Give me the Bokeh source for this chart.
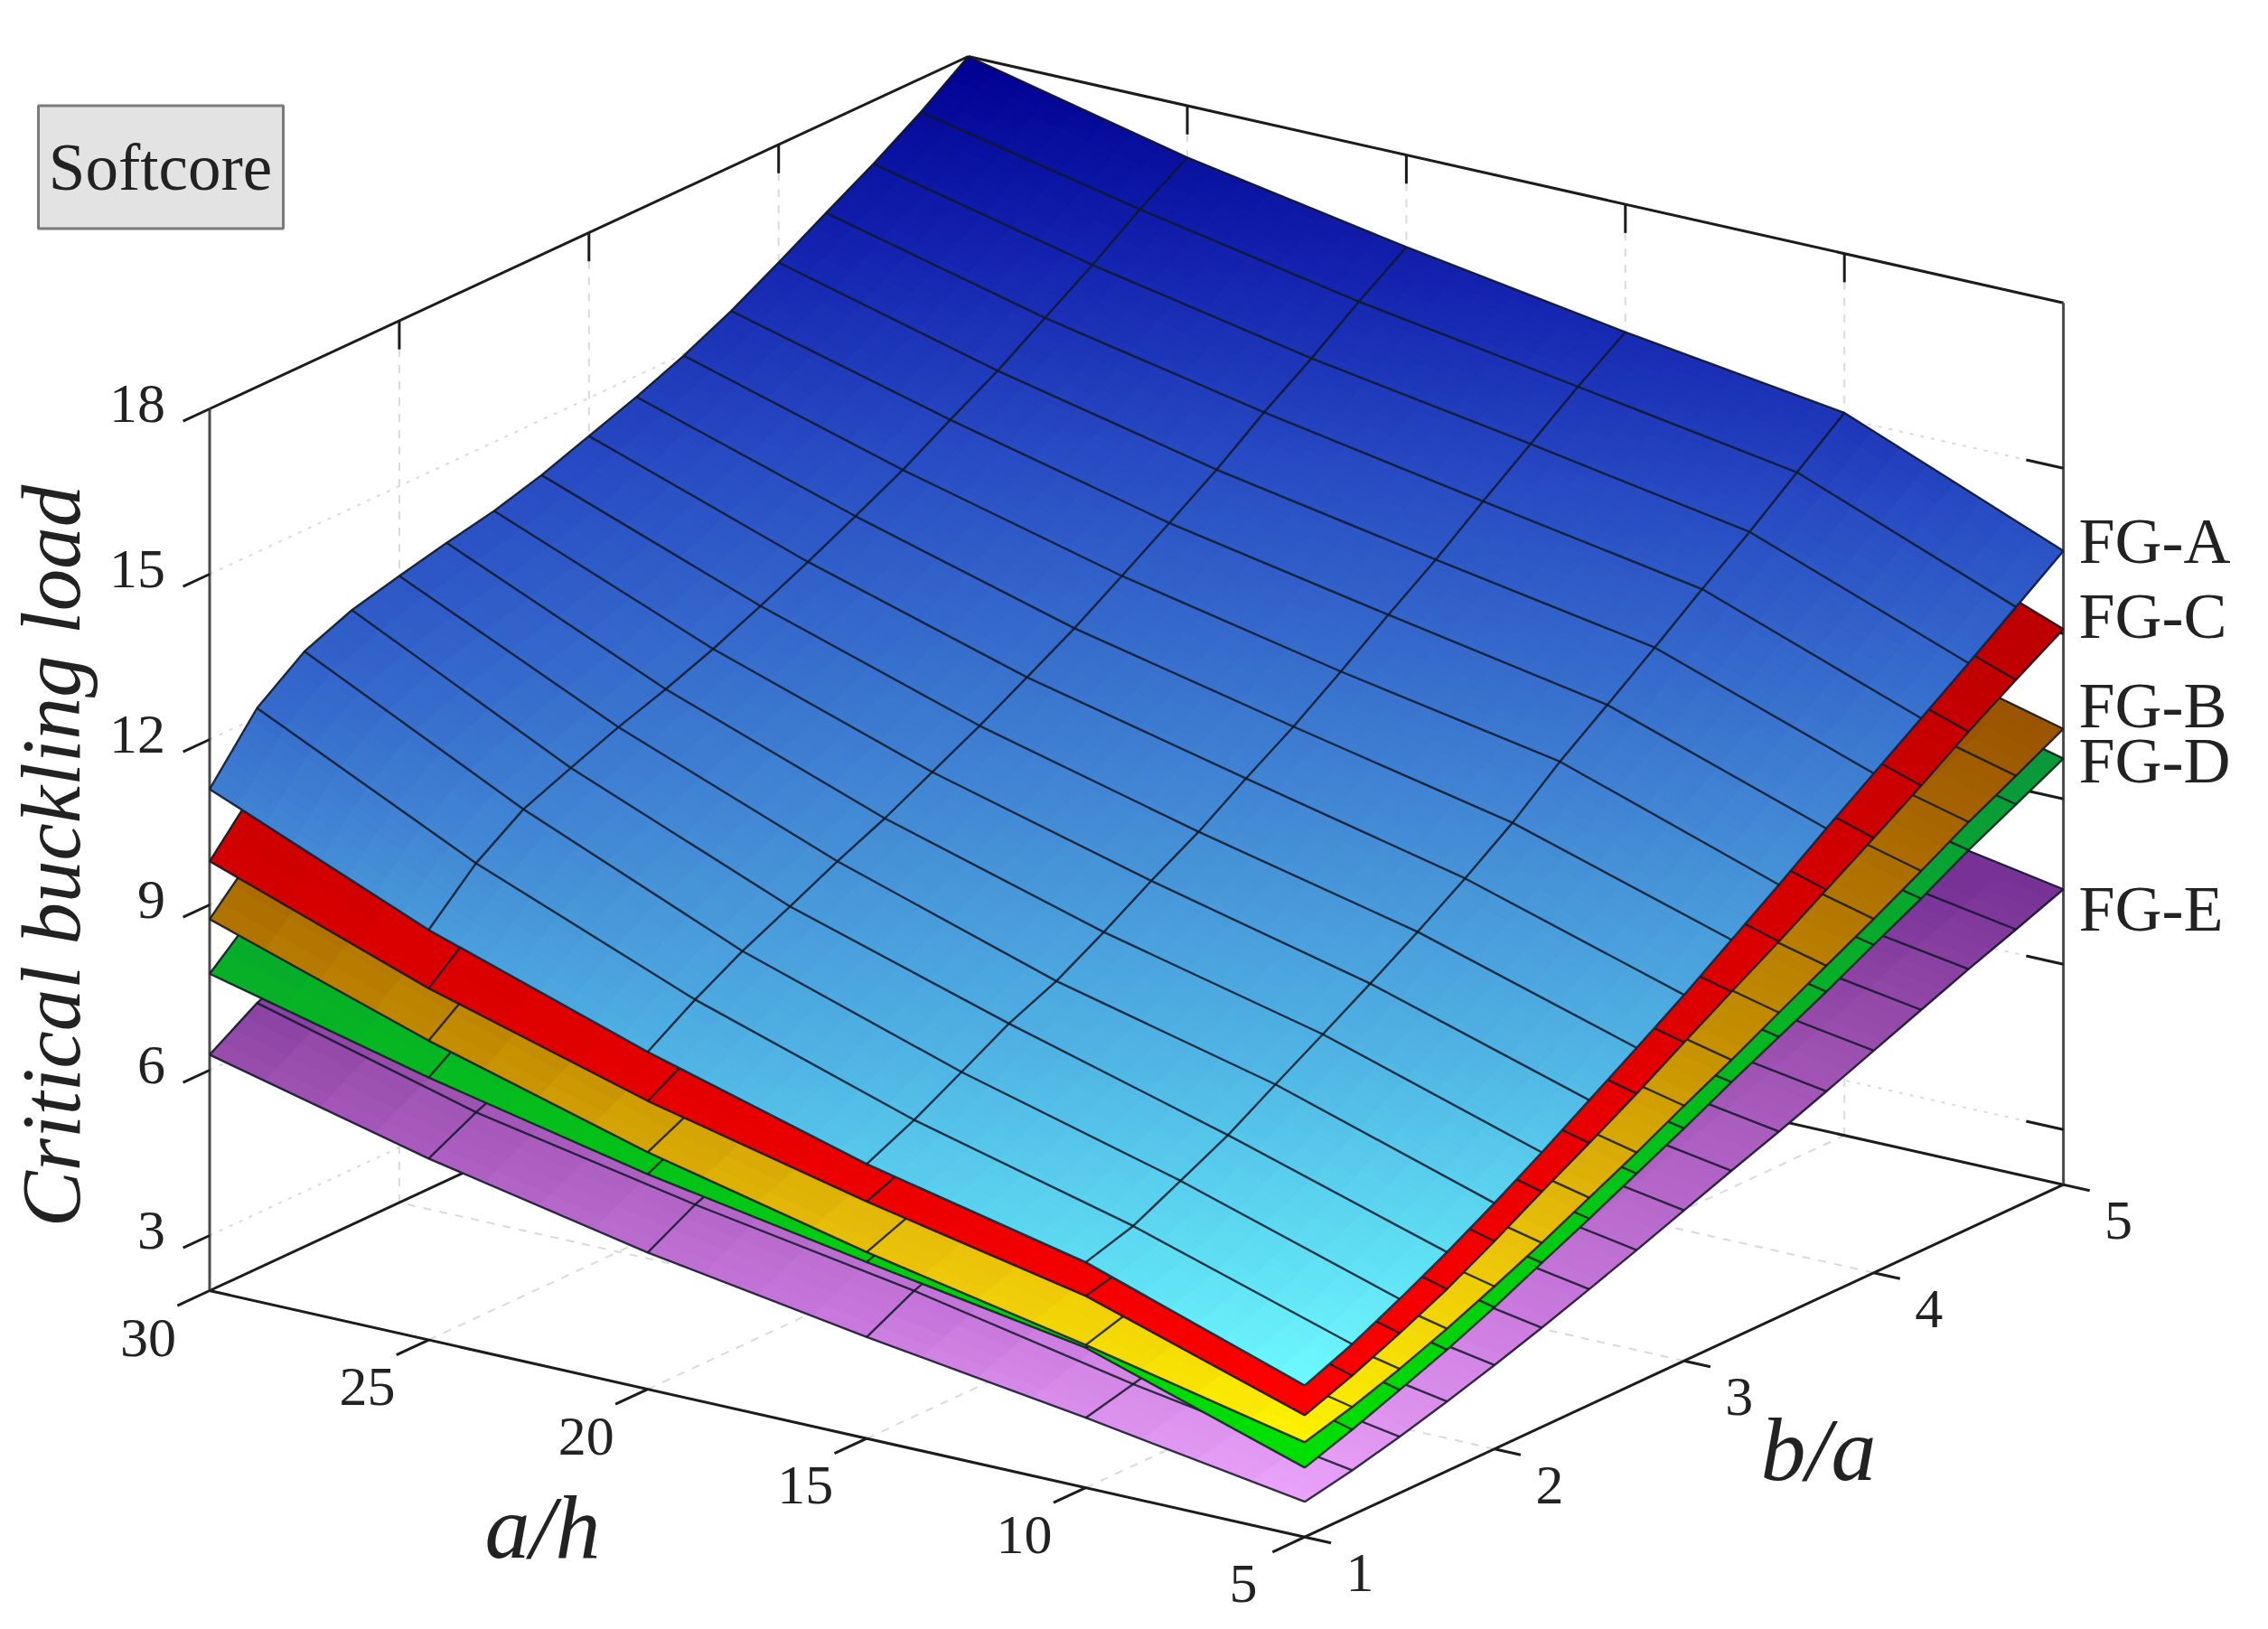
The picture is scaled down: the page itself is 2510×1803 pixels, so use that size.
from bokeh.plotting import figure
from bokeh.models import Range1d, ColumnDataSource
from bokeh.embed import file_html
from bokeh.resources import INLINE
from bokeh.core.properties import value

# ---------------- data ----------------
a_over_h = [5, 10, 15, 20, 25, 30]
b_over_a = [1, 1.25, 1.5, 1.75, 2, 2.25, 2.5, 2.75, 3, 3.25, 3.5, 3.75, 4, 4.25, 4.5, 4.75, 5]
a_ticks = [5, 10, 15, 20, 25, 30]
b_ticks = [1, 2, 3, 4, 5]
z_ticks = [3, 6, 9, 12, 15, 18]
N = None  # value hidden behind a higher surface in the picture

fg_a = [
    [4.75, 5.10, 5.52, 5.97, 6.46, 6.98, 7.53, 8.08, 8.64, 9.24, 9.84, 10.46, 11.06, 11.66, 12.26, 12.88, 13.50],
    [6.09, 6.35, 6.77, 7.20, 7.72, 8.23, 8.75, 9.29, 9.86, 10.47, 11.18, 11.81, 12.45, 13.11, 13.75, 14.43, 15.11],
    [6.98, 7.38, 7.85, 8.33, 8.70, 9.19, 9.72, 10.21, 10.78, 11.32, 11.92, 12.55, 13.15, 13.81, 14.45, 15.09, 15.68],
    [8.12, 8.67, 9.15, 9.56, 9.98, 10.36, 10.80, 11.24, 11.72, 12.21, 12.76, 13.32, 13.89, 14.53, 15.11, 15.74, 16.33],
    [9.44, 10.25, 10.83, 11.18, 11.52, 11.81, 12.14, 12.52, 12.92, 13.35, 13.79, 14.30, 14.79, 15.35, 15.91, 16.52, 17.06],
    [11.10, 12.17, 12.80, 13.15, 13.37, 13.57, 13.75, 14.00, 14.31, 14.62, 14.97, 15.38, 15.86, 16.36, 16.85, 17.39, 18.00],
]
fg_c = [
    [4.21, 4.53, 4.90, 5.30, 5.77, 6.27, 6.75, 7.25, 7.78, 8.30, 8.81, 9.35, 9.89, 10.44, 11.02, 11.56, 12.08],
    [5.48, 5.70, 6.03, 6.40, 6.85, 7.30, 7.78, 8.25, 8.78, 9.32, 9.98, 10.55, 11.15, 11.75, 12.35, 12.97, 13.60],
    [6.30, 6.65, 7.03, N, N, N, N, N, N, N, N, N, N, N, N, N, N],
    [7.23, 7.72, 8.14, N, N, N, N, N, N, N, N, N, N, N, N, N, N],
    [8.38, 9.10, 9.62, N, N, N, N, N, N, N, N, N, N, N, N, N, N],
    [9.79, 10.75, 11.30, N, N, N, N, N, N, N, N, N, N, N, N, N, N],
]
fg_b = [
    [3.72, 3.96, 4.25, 4.58, 4.95, 5.34, 5.76, 6.18, 6.63, 7.06, 7.52, 7.97, 8.42, 8.89, 9.38, 9.82, 10.27],
    [4.59, 4.85, 5.15, 5.50, 5.88, 6.27, 6.68, 7.10, 7.55, 8.00, 8.50, 8.98, 9.45, 9.95, 10.40, 10.85, 11.30],
    [5.38, 5.72, 6.10, N, N, N, N, N, N, N, N, N, N, N, N, N, N],
    [6.30, 6.72, 7.10, N, N, N, N, N, N, N, N, N, N, N, N, N, N],
    [7.43, 8.07, 8.53, N, N, N, N, N, N, N, N, N, N, N, N, N, N],
    [8.74, 9.60, 10.10, N, N, N, N, N, N, N, N, N, N, N, N, N, N],
]
fg_d = [
    [3.26, 3.55, 3.87, 4.20, 4.57, 4.98, 5.38, 5.80, 6.22, 6.66, 7.08, 7.50, 7.95, 8.39, 8.87, 9.30, 9.73],
    [4.54, 4.62, 4.88, 5.15, 5.50, 5.85, 6.22, 6.60, 7.00, 7.43, 7.92, 8.38, 8.82, 9.30, 9.75, 10.25, 10.75],
    [5.20, 5.55, 5.85, N, N, N, N, N, N, N, N, N, N, N, N, N, N],
    [5.90, 6.33, 6.68, N, N, N, N, N, N, N, N, N, N, N, N, N, N],
    [6.76, 7.35, 7.75, N, N, N, N, N, N, N, N, N, N, N, N, N, N],
    [7.75, 8.50, 8.95, N, N, N, N, N, N, N, N, N, N, N, N, N, N],
]
fg_e = [
    [2.64, 2.81, 3.02, 3.26, 3.52, 3.80, 4.10, 4.41, 4.73, 5.05, 5.36, 5.69, 6.03, 6.37, 6.71, 7.03, 7.36],
    [3.27, 3.48, 3.72, 3.98, 4.25, 4.52, 4.80, 5.10, 5.42, 5.72, 6.02, 6.35, 6.68, 7.02, 7.36, 7.72, 8.08],
    [3.84, 4.28, 4.60, N, N, N, N, N, N, N, N, N, N, N, N, N, N],
    [4.48, 4.95, 5.30, N, N, N, N, N, N, N, N, N, N, N, N, N, N],
    [5.29, 5.73, 6.10, N, N, N, N, N, N, N, N, N, N, N, N, N, N],
    [6.28, 6.82, 7.20, N, N, N, N, N, N, N, N, N, N, N, N, N, N],
]
surface_names = ["FG-E", "FG-D", "FG-B", "FG-C", "FG-A"]
tag_names = ["FG-A", "FG-C", "FG-B", "FG-D", "FG-E"]

# ---------------- colours ----------------
ramps = {
    "FG-A": [(4.75, (110, 250, 255)), (6, (95, 222, 243)), (8, (80, 180, 228)), (10, (70, 145, 215)),
             (12, (55, 110, 205)), (14, (40, 75, 195)), (16, (20, 35, 175)), (18, (0, 0, 145))],
    "FG-C": [(4.2, (255, 0, 0)), (12.1, (190, 0, 0))],
    "FG-B": [(3.7, (255, 245, 0)), (5.3, (235, 195, 10)), (7.4, (195, 140, 0)), (10.3, (155, 85, 0))],
    "FG-D": [(3.3, (0, 225, 0)), (10, (10, 150, 60))],
    "FG-E": [(2.64, (235, 165, 250)), (4, (200, 120, 220)), (6.3, (150, 75, 170)), (7.4, (120, 50, 150))],
}
tables = {"FG-A": fg_a, "FG-B": fg_b, "FG-C": fg_c, "FG-D": fg_d, "FG-E": fg_e}
steps = {"FG-A": 8, "FG-B": 4, "FG-C": 3, "FG-D": 3, "FG-E": 4}

# ---------------- view of the 3-D box ----------------
X0, Y0 = 231.5, 1428.0
AX, AY = 1212.0 / 25, 272.7 / 25
BX, BY = 839.6 / 4, -390.0 / 4
ZS, ZMIN = 61.0, 2.0


def px(a, b, z):
    return X0 + (30 - a) * AX + (b - 1) * BX


def py(a, b, z):
    return Y0 + (30 - a) * AY + (b - 1) * BY - (z - ZMIN) * ZS


def colour(name, z):
    ramp = ramps[name]
    if z <= ramp[0][0]:
        c = ramp[0][1]
    elif z >= ramp[-1][0]:
        c = ramp[-1][1]
    else:
        for (z0, c0), (z1, c1) in zip(ramp, ramp[1:]):
            if z0 <= z <= z1:
                t = (z - z0) / (z1 - z0)
                c = tuple(c0[k] + (c1[k] - c0[k]) * t for k in range(3))
                break
    return "#%02x%02x%02x" % tuple(int(round(v)) for v in c)


p = figure(width=2494, height=1787, output_backend="svg", toolbar_location=None,
           x_range=Range1d(0, 2494), y_range=Range1d(1787, 0), min_border=0,
           x_axis_type=None, y_axis_type=None, outline_line_color=None)
p.grid.visible = False
SERIF = value("Liberation Serif")


def seg(a0, b0, z0, a1, b1, z1, **kw):
    xs = [px(a0, b0, z0), px(a1, b1, z1)]
    ys = [py(a0, b0, z0), py(a1, b1, z1)]
    p.line(xs, ys, **kw)


A_MIN, A_MAX, B_MIN, B_MAX, Z_TOP = a_ticks[0], a_ticks[-1], b_ticks[0], b_ticks[-1], z_ticks[-1]
GRID = dict(line_color="#dadada", line_width=2, line_dash=[9, 9])
DOTS = dict(line_color="#dadada", line_width=2, line_dash=[4, 8])

# grid on the walls and floor
for b in b_ticks[1:-1]:
    seg(A_MAX, b, ZMIN, A_MAX, b, Z_TOP, **GRID)
    seg(A_MIN, b, ZMIN, A_MAX, b, ZMIN, **GRID)
for a in a_ticks[1:-1]:
    seg(a, B_MAX, ZMIN, a, B_MAX, Z_TOP, **GRID)
    seg(a, B_MIN, ZMIN, a, B_MAX, ZMIN, **GRID)
for z in z_ticks[:-1]:
    seg(A_MAX, B_MIN, z, A_MAX, B_MAX, z, **DOTS)
    seg(A_MAX, B_MAX, z, A_MIN, B_MAX, z, **DOTS)

# back edges
AXIS = dict(line_color="#1c1c1c", line_width=3)
seg(A_MAX, B_MIN, ZMIN, A_MAX, B_MAX, ZMIN, **AXIS)
seg(A_MAX, B_MAX, ZMIN, A_MIN, B_MAX, ZMIN, **AXIS)
seg(A_MAX, B_MIN, Z_TOP, A_MAX, B_MAX, Z_TOP, **AXIS)
seg(A_MAX, B_MAX, Z_TOP, A_MIN, B_MAX, Z_TOP, **AXIS)
VERT = dict(line_color="#4a4a4a", line_width=3)
seg(A_MAX, B_MIN, ZMIN, A_MAX, B_MIN, Z_TOP, **VERT)
seg(A_MIN, B_MAX, ZMIN, A_MIN, B_MAX, Z_TOP, **VERT)
# top ticks
for b in b_ticks[1:-1]:
    seg(A_MAX, b, Z_TOP, A_MAX, b, Z_TOP - 0.52, **AXIS)
for a in a_ticks[1:-1]:
    seg(a, B_MAX, Z_TOP, a, B_MAX, Z_TOP - 0.52, **AXIS)
# z ticks
for z in z_ticks:
    seg(A_MAX, B_MIN, z, A_MAX, B_MIN - 0.14, z, **AXIS)
for z in z_ticks[:-1]:
    seg(A_MIN, B_MAX, z, A_MIN + 0.85, B_MAX, z, **AXIS)
# floor axes ticks
for a in a_ticks:
    seg(a, B_MIN, ZMIN, a, B_MIN - 0.17, ZMIN, **AXIS)
for b in b_ticks:
    seg(A_MIN, b, ZMIN, A_MIN - 0.6, b, ZMIN, **AXIS)
seg(A_MAX, B_MIN, ZMIN, A_MIN, B_MIN, ZMIN, **AXIS)
seg(A_MIN, B_MIN, ZMIN, A_MIN, B_MAX, ZMIN, **AXIS)


# surfaces, lowest first
def draw_surface(name):
    tbl = tables[name]
    n = steps[name]
    xs, ys, cols = [], [], []
    for r in range(len(a_over_h) - 1):
        for c in range(len(b_over_a) - 1):
            corners = (tbl[r][c], tbl[r][c + 1], tbl[r + 1][c], tbl[r + 1][c + 1])
            if None in corners:
                continue
            a0, a1 = a_over_h[r], a_over_h[r + 1]
            b0, b1 = b_over_a[c], b_over_a[c + 1]

            def at(u, v):
                z = (corners[0] * (1 - u) * (1 - v) + corners[1] * (1 - u) * v
                     + corners[2] * u * (1 - v) + corners[3] * u * v)
                a = a0 + (a1 - a0) * u
                b = b0 + (b1 - b0) * v
                return px(a, b, z), py(a, b, z), z

            for i in range(n):
                for j in range(n):
                    pts = [at(i / n, j / n), at(i / n, (j + 1) / n),
                           at((i + 1) / n, (j + 1) / n), at((i + 1) / n, j / n)]
                    xs.append([q[0] for q in pts])
                    ys.append([q[1] for q in pts])
                    cols.append(colour(name, sum(q[2] for q in pts) / 4))
    src = ColumnDataSource(dict(xs=xs, ys=ys, c=cols))
    p.patches("xs", "ys", source=src, fill_color="c", line_color="c", line_width=1.2)
    # mesh
    mx, my = [], []
    for r in range(len(a_over_h)):
        run_x, run_y = [], []
        for c in range(len(b_over_a)):
            if tbl[r][c] is None:
                continue
            run_x.append(px(a_over_h[r], b_over_a[c], tbl[r][c]))
            run_y.append(py(a_over_h[r], b_over_a[c], tbl[r][c]))
        mx.append(run_x)
        my.append(run_y)
    for c in range(len(b_over_a)):
        run_x, run_y = [], []
        for r in range(len(a_over_h)):
            if tbl[r][c] is None:
                continue
            run_x.append(px(a_over_h[r], b_over_a[c], tbl[r][c]))
            run_y.append(py(a_over_h[r], b_over_a[c], tbl[r][c]))
        if len(run_x) > 1:
            mx.append(run_x)
            my.append(run_y)
    p.multi_line(mx, my, line_color="#101828", line_alpha=0.85, line_width=2.4)


for name in surface_names:
    draw_surface(name)

# tick labels
NUM = dict(text_font=SERIF, text_font_size="62px", text_color="#222222",
           text_align="center", text_baseline="middle")
p.text([px(a, B_MIN, ZMIN) - 68 for a in a_ticks], [py(a, B_MIN, ZMIN) + 52 for a in a_ticks],
       text=[str(a) for a in a_ticks], **NUM)
p.text([px(A_MIN, b, ZMIN) + 61 for b in b_ticks], [py(A_MIN, b, ZMIN) + 40 for b in b_ticks],
       text=[str(b) for b in b_ticks], **NUM)
p.text([px(A_MAX, B_MIN, z) - 49 for z in z_ticks], [py(A_MAX, B_MIN, z) - 6 for z in z_ticks],
       text=[str(z) for z in z_ticks], text_font=SERIF, text_font_size="62px", text_color="#222222",
       text_align="right", text_baseline="middle")

# axis titles
TITLE = dict(text_font=SERIF, text_font_style="italic", text_color="#222222",
             text_align="center", text_baseline="middle")
p.text([600], [1690], text=["a/h"], text_font_size="100px", **TITLE)
p.text([2012], [1604], text=["b/a"], text_font_size="100px", **TITLE)
p.text([56], [947], text=["Critical buckling load"], text_font_size="93px", angle=1.5708, **TITLE)

# surface tags
tag_y = [598, 681, 780, 841, 1005]
p.text([2300] * 5, tag_y, text=tag_names, text_font=SERIF, text_font_size="72px",
       text_color="#222222", text_align="left", text_baseline="middle")

# label box
p.quad(left=[42], right=[313], top=[116.5], bottom=[252.6], fill_color="#e3e3e3",
       line_color="#7a7a7a", line_width=3)
p.text([177], [185], text=["Softcore"], text_font=SERIF, text_font_size="73px",
       text_color="#222222", text_align="center", text_baseline="middle")

open("out.html", "w").write(file_html(p, INLINE))
